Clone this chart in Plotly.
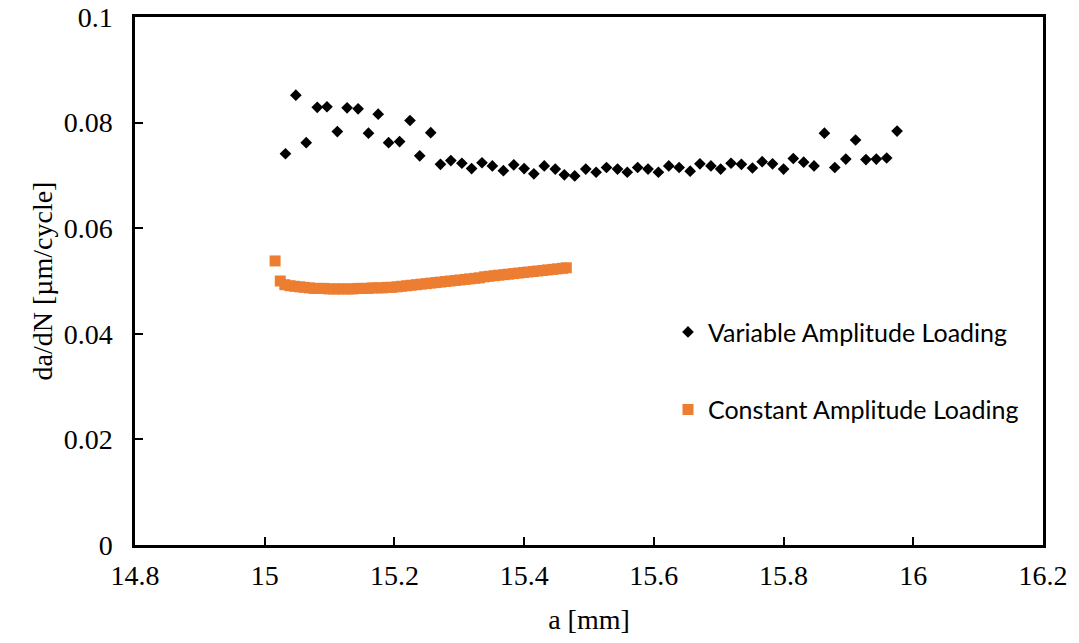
import plotly.graph_objects as go

# Variable Amplitude Loading (black diamonds)
va_a = [15.032, 15.048, 15.064, 15.081, 15.096, 15.112, 15.127, 15.144, 15.160, 15.175,
        15.191, 15.208, 15.224, 15.239, 15.256, 15.271, 15.287, 15.304, 15.319, 15.335,
        15.351, 15.368, 15.384, 15.400, 15.415, 15.431, 15.448, 15.462, 15.478, 15.495,
        15.511, 15.527, 15.544, 15.559, 15.575, 15.591, 15.607, 15.623, 15.639, 15.656,
        15.671, 15.688, 15.703, 15.719, 15.735, 15.752, 15.767, 15.783, 15.800, 15.815,
        15.831, 15.847, 15.863, 15.879, 15.896, 15.911, 15.927, 15.943, 15.959, 15.975]
va_dadn = [0.0741, 0.0852, 0.0762, 0.0829, 0.0830, 0.0783, 0.0828, 0.0826, 0.0780, 0.0816,
           0.0762, 0.0764, 0.0804, 0.0737, 0.0781, 0.0721, 0.0728, 0.0723, 0.0713, 0.0724,
           0.0718, 0.0709, 0.0720, 0.0713, 0.0703, 0.0718, 0.0712, 0.0701, 0.0699, 0.0712,
           0.0706, 0.0715, 0.0712, 0.0706, 0.0715, 0.0712, 0.0706, 0.0718, 0.0715, 0.0708,
           0.0722, 0.0718, 0.0712, 0.0723, 0.0721, 0.0714, 0.0726, 0.0722, 0.0712, 0.0732,
           0.0725, 0.0718, 0.0780, 0.0715, 0.0731, 0.0767, 0.0730, 0.0731, 0.0733, 0.0784]

# Constant Amplitude Loading (orange squares)
ca_a = [15.016,
        15.024, 15.031, 15.039, 15.046, 15.054, 15.061, 15.069, 15.076, 15.084, 15.091,
        15.099, 15.106, 15.114, 15.121, 15.129, 15.136, 15.144, 15.151, 15.159, 15.166,
        15.174, 15.181, 15.189, 15.196, 15.204, 15.211, 15.219, 15.226, 15.234, 15.241,
        15.249, 15.256, 15.264, 15.271, 15.279, 15.286, 15.294, 15.301, 15.309, 15.316,
        15.324, 15.331, 15.339, 15.346, 15.354, 15.361, 15.369, 15.376, 15.384, 15.391,
        15.399, 15.406, 15.414, 15.421, 15.429, 15.436, 15.444, 15.451, 15.459, 15.465]
ca_dadn = [0.0538,
           0.0500, 0.0493, 0.0491, 0.0490, 0.0489, 0.0488, 0.0487, 0.0486, 0.0486, 0.0486,
           0.0485, 0.0485, 0.0485, 0.0485, 0.0485, 0.0485, 0.0486, 0.0486, 0.0486, 0.0487,
           0.0487, 0.0487, 0.0488, 0.0488, 0.0489, 0.0490, 0.0491, 0.0492, 0.0493, 0.0494,
           0.0495, 0.0496, 0.0497, 0.0498, 0.0499, 0.0500, 0.0501, 0.0502, 0.0503, 0.0504,
           0.0505, 0.0506, 0.0508, 0.0509, 0.0510, 0.0511, 0.0512, 0.0513, 0.0514, 0.0515,
           0.0516, 0.0517, 0.0518, 0.0519, 0.0520, 0.0521, 0.0522, 0.0523, 0.0524, 0.0525]

x_ticks = [14.8, 15.0, 15.2, 15.4, 15.6, 15.8, 16.0, 16.2]
x_tick_labels = ["14.8", "15", "15.2", "15.4", "15.6", "15.8", "16", "16.2"]
y_ticks = [0, 0.02, 0.04, 0.06, 0.08, 0.1]
y_tick_labels = ["0", "0.02", "0.04", "0.06", "0.08", "0.1"]

fig = go.Figure()
fig.add_trace(go.Scatter(
    x=ca_a, y=ca_dadn, mode="markers", name="Constant Amplitude Loading",
    marker=dict(symbol="square", size=11, color="#ED7D31"),
    legend="legend2"))
fig.add_trace(go.Scatter(
    x=va_a, y=va_dadn, mode="markers", name="Variable Amplitude Loading",
    marker=dict(symbol="diamond", size=9, color="#000000"),
    legend="legend"))

axis_font = dict(family="Liberation Serif", size=28, color="black")
title_font = dict(family="Liberation Serif", size=28, color="black")
leg_font = dict(family="Lato", size=25, color="black")

fig.update_layout(
    width=1079, height=643,
    margin=dict(l=135, r=36, t=17, b=98, autoexpand=False),
    paper_bgcolor="white", plot_bgcolor="white",
    showlegend=True,
    legend=dict(x=0.587, y=0.403, xanchor="left", yanchor="middle",
                bgcolor="rgba(0,0,0,0)", font=leg_font),
    legend2=dict(x=0.587, y=0.256, xanchor="left", yanchor="middle",
                 bgcolor="rgba(0,0,0,0)", font=leg_font),
    xaxis=dict(range=[14.8, 16.2], tickvals=x_ticks, ticktext=x_tick_labels,
               showgrid=False, zeroline=False, showline=True, mirror=True,
               linecolor="black", linewidth=2.5, ticks="inside", ticklen=8,
               tickwidth=2, tickcolor="black", tickfont=axis_font,
               ticklabelstandoff=4, automargin=False,
               title=dict(text="a [mm]", font=title_font, standoff=20)),
    yaxis=dict(range=[0, 0.1], tickvals=y_ticks, ticktext=y_tick_labels,
               showgrid=False, zeroline=False, showline=True, mirror=True,
               linecolor="black", linewidth=2.5, ticks="inside", ticklen=8,
               tickwidth=2, tickcolor="black", tickfont=axis_font,
               ticklabelstandoff=14, automargin=False,
               title=dict(text="da/dN [µm/cycle]", font=title_font, standoff=3)),
)

fig.write_html("out.html")
